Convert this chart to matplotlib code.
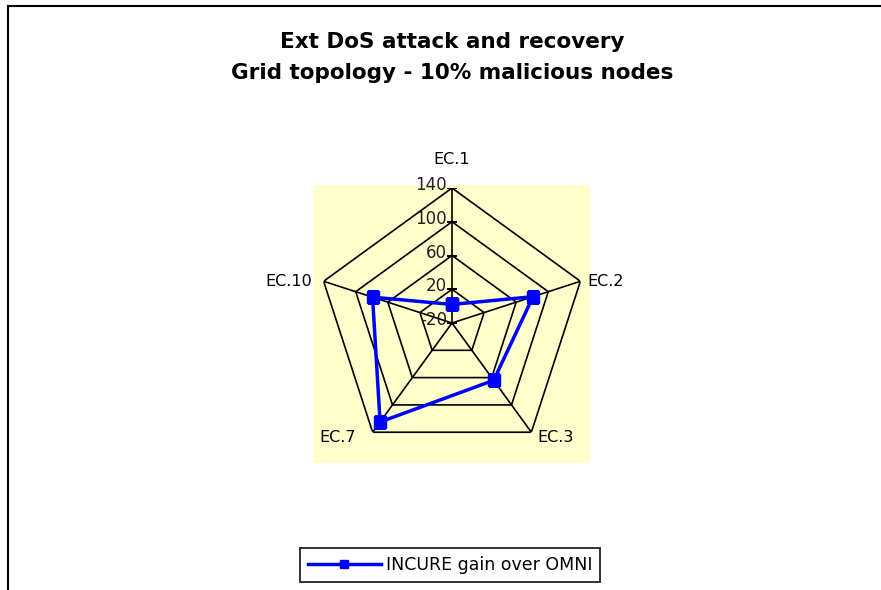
import matplotlib.pyplot as plt
import numpy as np
from matplotlib.lines import Line2D

plt.rcParams['font.family'] = ['DejaVu Sans']

# data
categories = ['EC.1', 'EC.2', 'EC.3', 'EC.7', 'EC.10']
gain = [2, 81, 64, 125, 79]
ring_values = [-20, 20, 60, 100, 140]
series_name = 'INCURE gain over OMNI'

W, H = 881, 590
fig = plt.figure(figsize=(W / 100, H / 100), dpi=100)

# outer frame (top and left edges visible, runs off right/bottom)
fig.add_artist(Line2D([8 / W, 1.0], [1 - 6 / H, 1 - 6 / H], color='black', lw=1.5,
                      transform=fig.transFigure))
fig.add_artist(Line2D([8 / W, 8 / W], [0.0, 1 - 6 / H], color='black', lw=1.5,
                      transform=fig.transFigure))

# yellow plot area
bg = fig.add_axes([313 / W, 1 - 463 / H, 277 / W, 278 / H])
bg.set_facecolor('#FFFFCC')
bg.set_xticks([])
bg.set_yticks([])
for s in bg.spines.values():
    s.set_visible(False)

cx, cy, R = 452, 323, 135
ax = fig.add_axes([(cx - R) / W, 1 - (cy + R) / H, 2 * R / W, 2 * R / H], projection='polar')
ax.set_facecolor('none')
ax.set_theta_offset(np.pi / 2)
ax.set_theta_direction(-1)
ax.set_ylim(ring_values[0], ring_values[-1])
ax.grid(False)
ax.spines['polar'].set_visible(False)
ax.set_xticks([])
ax.set_yticks([])

n = len(categories)
theta = np.arange(n) * 2 * np.pi / n
closed = np.append(theta, theta[0])

# polygon grid
for rv in ring_values[1:]:
    ax.plot(closed, [rv] * (n + 1), color='black', lw=1.2)
for t in theta:
    ax.plot([t, t], [ring_values[0], ring_values[-1]], color='black', lw=1.2)
ax.plot([0] * len(ring_values), ring_values, ls='none', marker='_', ms=7,
        color='black', mew=1.2)

# radial tick labels
for rv in ring_values:
    ax.annotate(str(rv), (0, rv), xytext=(-5, 3), textcoords='offset pixels',
                ha='right', va='center', fontsize=12, color='#2a1a2a')

# category labels
offsets = [(0, 28, 'center'), (7, 0, 'left'), (6, -5, 'left'),
           (-17, -5, 'right'), (-11, 0, 'right')]
for t, lab, (dx, dy, ha) in zip(theta, categories, offsets):
    ax.annotate(lab, (t, ring_values[-1]), xytext=(dx, dy), textcoords='offset pixels',
                ha=ha, va='center', fontsize=11.5)

vals = gain + [gain[0]]
ax.plot(closed, vals, color='#0000FF', lw=2.5, marker='s', ms=8, label=series_name)

fig.text(452 / W, 1 - 42 / H, 'Ext DoS attack and recovery', ha='center', va='center',
         fontsize=15.5, fontweight='bold')
fig.text(452 / W, 1 - 73 / H, 'Grid topology - 10% malicious nodes', ha='center',
         va='center', fontsize=15.5, fontweight='bold')

handles, labels = ax.get_legend_handles_labels()
leg = fig.legend(handles, labels, loc='center', bbox_to_anchor=(450 / W, 1 - 565 / H),
                 fancybox=False, edgecolor='black', fontsize=12.5, handlelength=4.2,
                 markerscale=0.8, borderpad=0.45, handletextpad=0.3)
leg.get_frame().set_linewidth(1.4)

fig.savefig('out.png', dpi=100)
